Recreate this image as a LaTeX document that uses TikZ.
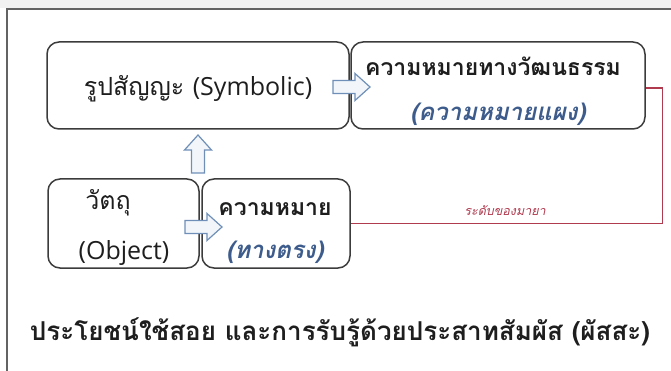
\documentclass[tikz,border=0pt]{standalone}
\usepackage{fontspec}
\newfontfamily\thai[Script=Thai]{Loma}
\newfontfamily\lat{Open Sans}
\definecolor{boxline}{HTML}{3C3C3C}
\definecolor{arrline}{HTML}{6F8FB8}
\definecolor{arrfill}{HTML}{F2F6FB}
\definecolor{bluetxt}{HTML}{3D5C8C}
\definecolor{redline}{HTML}{B03A4E}
\definecolor{txt}{HTML}{1E1E1E}
\newcommand\blockRight[3]{% x0 x1 y
  \draw[arrowshape] (#1,#3-6.5) -- (#2-15,#3-6.5) -- (#2-15,#3-13.5) -- (#2,#3) -- (#2-15,#3+13.5) -- (#2-15,#3+6.5) -- (#1,#3+6.5) -- cycle;}
\newcommand\blockUp[3]{% x y0(tail) y1(tip)
  \draw[arrowshape] (#1-6.5,#2) -- (#1-6.5,#3+15) -- (#1-13.5,#3+15) -- (#1,#3) -- (#1+13.5,#3+15) -- (#1+6.5,#3+15) -- (#1+6.5,#2) -- cycle;}
\begin{document}
\begin{tikzpicture}[x=1pt,y=-1pt,
  box/.style={draw=boxline, line width=1.5pt, rounded corners=12pt, fill=white, inner sep=0pt},
  arrowshape/.style={draw=arrline, fill=arrfill, line width=1.2pt, line join=miter},
  maintxt/.style={font=\thai\fontsize{25}{28}\selectfont, text=txt, inner sep=0pt},
  boldtxt/.style={font=\thai\bfseries\fontsize{23}{27}\selectfont, text=txt, inner sep=0pt},
  bluetext/.style={font=\thai\bfseries\itshape\fontsize{24}{28}\selectfont, text=bluetxt, inner sep=0pt},
  redlab/.style={font=\thai\itshape\fontsize{12.5}{15}\selectfont, text=redline, inner sep=0pt},
  bottomtxt/.style={font=\thai\bfseries\fontsize{26}{30}\selectfont, text=txt, inner sep=0pt},
  conn/.style={draw=redline, line width=1.3pt}
]
\useasboundingbox (0,0) rectangle (671,371);
\fill[gray!10] (0,0) rectangle (671,8);
\draw[boxline!80, line width=1.6pt] (7,371) -- (7,9) -- (671,9);

% boxes
\node[box, minimum width=302pt, minimum height=87pt] (S) at (198,85.5) {};
\node[box, minimum width=294pt, minimum height=87pt] (C) at (498,85.5) {};
\node[box, minimum width=151pt, minimum height=89pt] (O) at (123.5,223.5) {};
\node[box, minimum width=148pt, minimum height=89pt] (M) at (276,223.5) {};

% texts
\node[maintxt, anchor=base] (St) at (198,96) {รูปสัญญะ {\lat\fontsize{25}{28}\selectfont (Symbolic)}};
\node[boldtxt, anchor=base] (Ct1) at (493,76) {ความหมายทางวัฒนธรรม};
\node[bluetext, anchor=base] (Ct2) at (498,121) {(ความหมายแผง)};
\node[maintxt, anchor=base] (Ot1) at (108,210) {วัตถุ};
\node[maintxt, anchor=base] (Ot2) at (124,259) {\lat\fontsize{25}{28}\selectfont (Object)};
\node[boldtxt, anchor=base] (Mt1) at (275,215) {ความหมาย};
\node[bluetext, anchor=base] (Mt2) at (275,258) {(ทางตรง)};

% block arrows
\blockRight{333}{370}{87}
\blockUp{198}{173}{135}
\blockRight{185}{222}{227}

% red connector
\draw[conn] ([yshift=-2.5pt]C.east) -- ++(17,0) |- (M.east);
\node[redlab, anchor=base] (L) at (505,216) {ระดับของมายา};

% bottom line
\node[bottomtxt, anchor=base] (B) at (340,340) {ประโยชน์ใช้สอย และการรับรู้ด้วยประสาทสัมผัส (ผัสสะ)};
\end{tikzpicture}
\end{document}
